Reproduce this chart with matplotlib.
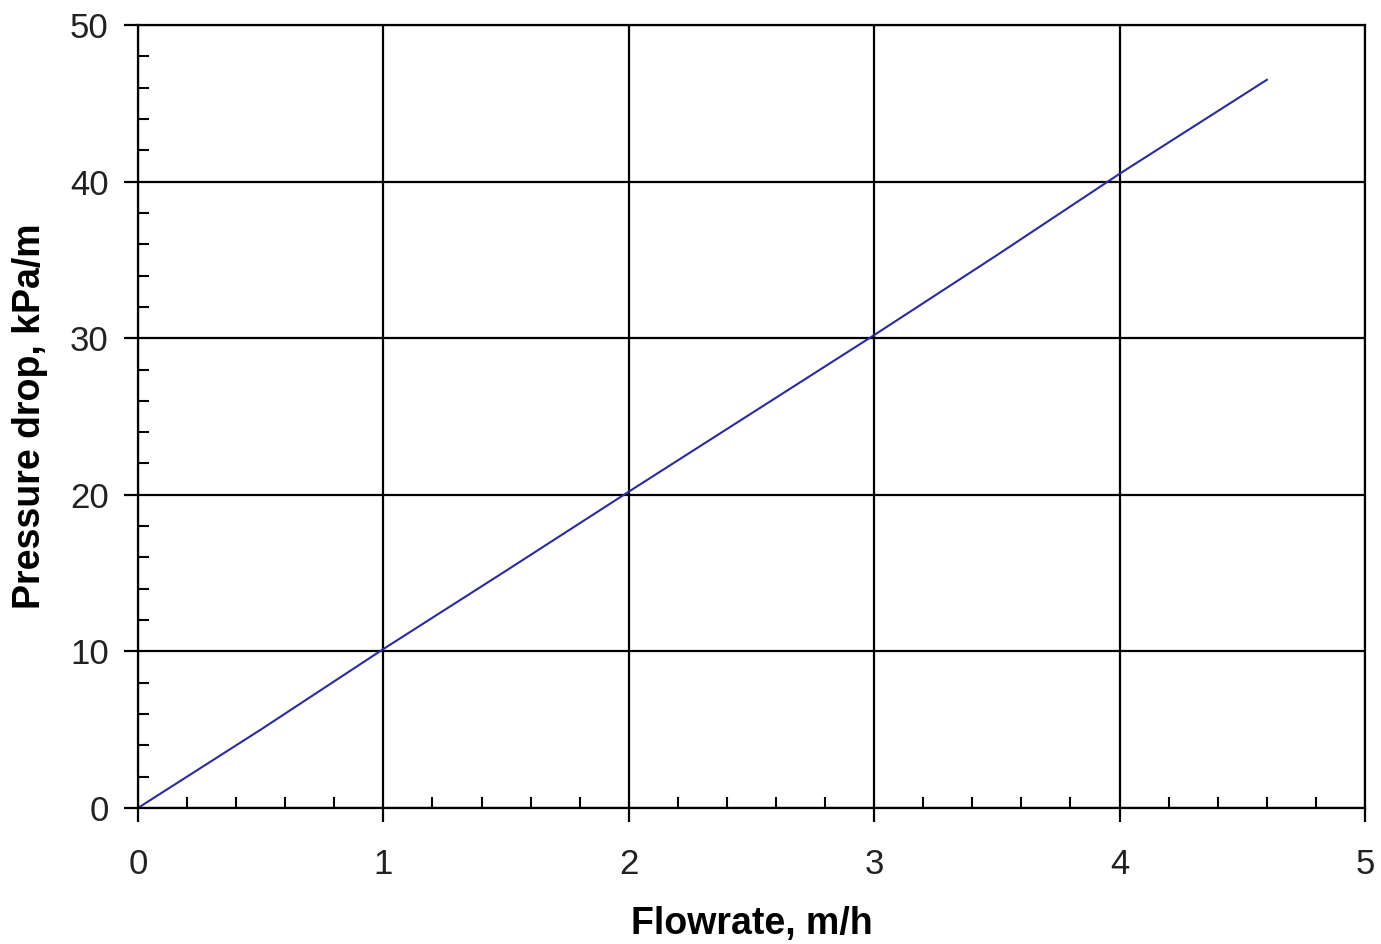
import matplotlib
matplotlib.use("Agg")
import matplotlib.pyplot as plt
from matplotlib.ticker import MultipleLocator

# flowrate (m/h) vs pressure drop (kPa/m)
flow = [0.0, 0.5, 1.0, 1.5, 2.0, 2.5, 3.0, 3.5, 4.0, 4.3, 4.6]
dp = [0.0, 5.0, 10.15, 15.15, 20.2, 25.2, 30.2, 35.3, 40.5, 43.5, 46.5]

plt.rcParams['font.family'] = ['Liberation Sans', 'DejaVu Sans']

fig = plt.figure(figsize=(13.81, 9.44), dpi=100)
ax = fig.add_axes([0.0999, 0.1441, 0.8885, 0.8294])

ax.plot(flow, dp, color='#2b2b9a', lw=1.5)

ax.set_xlim(0, 5)
ax.set_ylim(0, 50)
ax.xaxis.set_major_locator(MultipleLocator(1))
ax.xaxis.set_minor_locator(MultipleLocator(0.2))
ax.yaxis.set_major_locator(MultipleLocator(10))
ax.yaxis.set_minor_locator(MultipleLocator(2))
ax.grid(True, which='major', color='black', lw=1.6)
ax.set_axisbelow(True)

ax.tick_params(which='major', direction='out', length=10, width=1.6,
               labelsize=25, labelcolor='#222222', color='black')
ax.tick_params(axis='x', which='major', pad=19)
ax.tick_params(axis='y', which='major', pad=11)
ax.tick_params(which='minor', direction='in', length=8, width=1.5, color='black')
for s in ax.spines.values():
    s.set_linewidth(1.6)

ax.set_xlabel('Flowrate, m/h', fontsize=27, fontweight='bold', labelpad=18)
ax.set_ylabel('Pressure drop, kPa/m', fontsize=27, fontweight='bold', labelpad=16)

fig.savefig('out.png', dpi=100)
